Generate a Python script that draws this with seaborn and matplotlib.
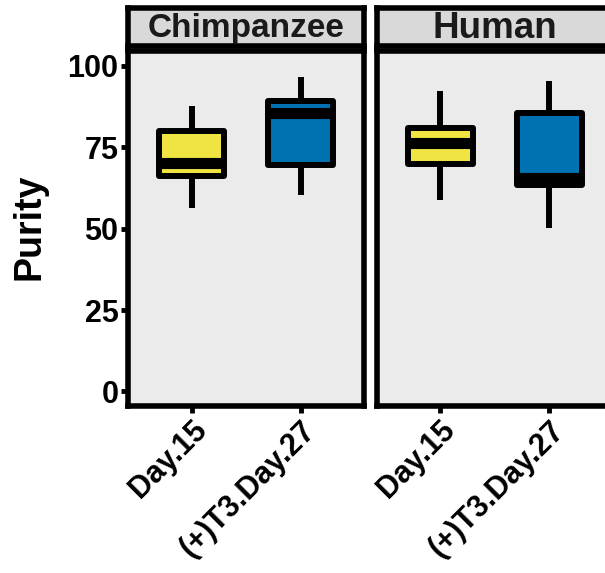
import numpy as np
import pandas as pd
import matplotlib
matplotlib.use("Agg")
import matplotlib.pyplot as plt
import seaborn as sns

# Daten: min, q1, median, q3, max
species = ["Chimpanzee", "Human"]
conditions = ["Day.15", "(+)T3.Day.27"]
chimp_day15 = [56.2, 66.2, 70.2, 80.1, 87.7]
chimp_t3 = [60.2, 69.5, 85.6, 89.3, 96.6]
human_day15 = [58.7, 70.0, 76.2, 81.0, 92.4]
human_t3 = [50.1, 63.5, 65.6, 85.4, 95.2]
box_colors = ["#F0E442", "#0072B2"]
y_ticks = [0, 25, 50, 75, 100]

sns.set_theme(style="ticks")
plt.rcParams["font.family"] = ["Liberation Sans", "DejaVu Sans"]
plt.rcParams["font.weight"] = "bold"

values = {
    ("Chimpanzee", "Day.15"): chimp_day15,
    ("Chimpanzee", "(+)T3.Day.27"): chimp_t3,
    ("Human", "Day.15"): human_day15,
    ("Human", "(+)T3.Day.27"): human_t3,
}
rows = []
for (sp, cond), vals in values.items():
    for v in vals:
        rows.append({"species": sp, "condition": cond, "purity": v})
df = pd.DataFrame(rows)

fig = plt.figure(figsize=(6.05, 5.73), dpi=100)

W, H = 605, 573
panel_left = [128.3, 377.0]
panel_w = 235.7
panel_top, panel_bottom = 50.5, 405.5
strip_top, strip_bottom = 8.0, 45.5
strip_size = {"Chimpanzee": 24, "Human": 26.5}

for i, sp in enumerate(species):
    ax = fig.add_axes([panel_left[i] / W, 1 - panel_bottom / H,
                       panel_w / W, (panel_bottom - panel_top) / H])
    sub = df[df["species"] == sp]
    sns.boxplot(data=sub, x="condition", y="purity", hue="condition",
                order=conditions, hue_order=conditions, palette=box_colors,
                saturation=1, width=0.6, whis=(0, 100), showcaps=False,
                linecolor="black", linewidth=4.3, fliersize=0, legend=False,
                medianprops=dict(linewidth=8, color="black"),
                boxprops=dict(joinstyle="round"),
                ax=ax)
    ax.set_facecolor("#EBEBEB")
    ax.set_xlim(-0.58, 1.58)
    ax.set_ylim(-4.3, 104.7)
    ax.set_yticks(y_ticks)
    ax.set_xlabel("")
    ax.set_ylabel("")
    for s in ax.spines.values():
        s.set_visible(True)
        s.set_color("black")
        s.set_linewidth(4)
    ax.tick_params(axis="both", direction="out", length=5, width=3.5,
                   color="black", labelcolor="black", pad=2,
                   bottom=True, left=True)
    ax.tick_params(axis="x", labelsize=22)
    ax.tick_params(axis="y", labelsize=22)
    ax.set_xticks(range(len(conditions)))
    ax.set_xticklabels(conditions, rotation=45, ha="right", va="top",
                       rotation_mode="anchor", fontweight="bold")
    if i == 0:
        ax.set_yticklabels([str(t) for t in y_ticks], fontweight="bold")
    else:
        ax.tick_params(axis="y", left=False, labelleft=False)

    # Facettenkopf
    sax = fig.add_axes([panel_left[i] / W, 1 - strip_bottom / H,
                        panel_w / W, (strip_bottom - strip_top) / H])
    sax.set_facecolor("#D9D9D9")
    sax.set_xticks([])
    sax.set_yticks([])
    for s in sax.spines.values():
        s.set_visible(True)
        s.set_color("black")
        s.set_linewidth(4)
    sax.text(0.5, 0.45, sp, ha="center", va="center", fontsize=strip_size[sp],
             fontweight="bold", color="#1A1A1A", transform=sax.transAxes)

fig.text(30 / W, 1 - 227 / H, "Purity", rotation=90, ha="center", va="center",
         fontsize=27, fontweight="bold", color="black")

plt.savefig("out.png", dpi=100)
